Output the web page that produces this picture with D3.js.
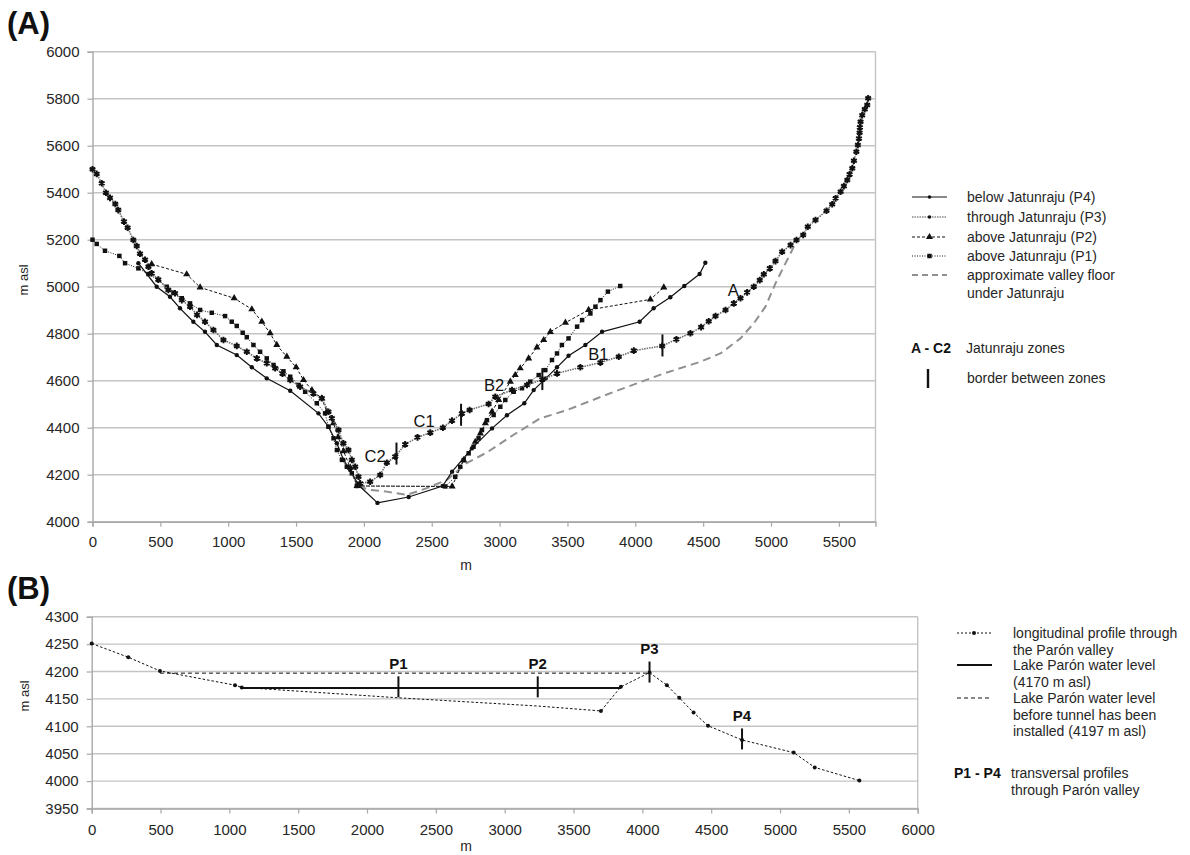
<!DOCTYPE html>
<html>
<head>
<meta charset="utf-8">
<script src="https://cdn.jsdelivr.net/npm/d3@7"></script>
<style>
  body { margin: 0; background: #fff; }
  svg { font-family: "Liberation Sans", Arial, sans-serif; }
</style>
</head>
<body>
<svg id="chart" width="1190" height="855"></svg>
<script>
// ---- panel A : transversal profiles [m, m asl] ----
const p4Below = [[338,5100],[473,5000],[571,4957],[645,4908],[743,4851],[829,4808],[916,4752],[1063,4709],[1174,4657],[1284,4610],[1457,4557],[1665,4461],[1739,4404],[1801,4334],[1850,4263],[1899,4220],[1960,4156],[2100,4080],[2330,4105],[2580,4152],[2650,4213],[2796,4312],[2944,4397],[3054,4453],[3182,4504],[3251,4560],[3340,4610],[3423,4657],[3508,4706],[3632,4752],[3755,4808],[4032,4851],[4135,4908],[4258,4955],[4361,5003],[4474,5054],[4516,5102]];
const p3Through = [[0,5500],[31,5480],[68,5440],[99,5400],[129,5378],[168,5352],[190,5326],[232,5277],[259,5251],[301,5199],[326,5173],[350,5140],[387,5115],[412,5085],[436,5057],[485,5030],[559,4986],[608,4972],[658,4943],[719,4915],[770,4880],[829,4851],[891,4816],[965,4773],[1063,4748],[1137,4723],[1211,4695],[1284,4674],[1346,4653],[1400,4630],[1457,4603],[1530,4574],[1628,4546],[1690,4525],[1739,4468],[1764,4440],[1813,4390],[1849,4334],[1886,4305],[1911,4263],[1936,4234],[1960,4191],[1972,4163],[2046,4170],[2120,4199],[2169,4251],[2231,4277],[2304,4329],[2395,4359],[2489,4379],[2582,4400],[2649,4430],[2722,4460],[2779,4475],[2919,4501],[2968,4532],[3091,4560],[3202,4582],[3315,4605],[3423,4631],[3595,4657],[3743,4677],[3878,4702],[3989,4728],[4198,4748],[4303,4776],[4406,4802],[4485,4828],[4541,4853],[4591,4875],[4665,4901],[4726,4929],[4775,4951],[4824,4976],[4873,5000],[4917,5028],[4947,5053],[4991,5078],[5033,5109],[5082,5149],[5144,5177],[5188,5199],[5237,5220],[5271,5255],[5328,5284],[5409,5323],[5451,5351],[5476,5376],[5513,5404],[5537,5428],[5562,5454],[5579,5478],[5599,5504],[5611,5536],[5629,5574],[5640,5603],[5648,5631],[5653,5655],[5655,5678],[5660,5702],[5672,5730],[5691,5755],[5709,5773],[5716,5802]];
const p2Above = [[436,5096],[694,5053],[793,4997],[1044,4951],[1174,4904],[1248,4851],[1309,4802],[1358,4752],[1432,4702],[1501,4657],[1555,4603],[1617,4560],[1690,4525],[1727,4468],[1776,4419],[1810,4360],[1850,4300],[1900,4230],[1950,4152],[2650,4150],[2735,4262],[2821,4340],[2858,4376],[2895,4419],[2944,4468],[2993,4518],[3079,4596],[3115,4624],[3152,4653],[3214,4695],[3275,4742],[3325,4773],[3374,4808],[3485,4847],[3656,4901],[4111,4946],[4210,4997]];
const p1Above = [[0,5200],[31,5182],[92,5153],[198,5131],[240,5100],[338,5078],[412,5054],[485,5029],[547,5000],[596,4975],[658,4951],[719,4929],[793,4901],[879,4889],[977,4875],[1026,4851],[1063,4833],[1107,4804],[1137,4785],[1186,4752],[1235,4723],[1284,4695],[1334,4667],[1407,4640],[1457,4617],[1518,4582],[1567,4553],[1653,4504],[1714,4461],[1739,4404],[1776,4355],[1801,4305],[1838,4263],[1874,4234],[1911,4206],[1948,4152],[2600,4150],[2673,4191],[2710,4234],[2735,4262],[2772,4291],[2808,4319],[2845,4355],[2870,4390],[2907,4432],[2956,4454],[3005,4489],[3042,4518],[3104,4553],[3165,4568],[3226,4596],[3288,4624],[3337,4645],[3386,4688],[3423,4716],[3459,4752],[3508,4780],[3571,4830],[3608,4858],[3669,4886],[3706,4915],[3743,4943],[3798,4979],[3889,5003]];
const valleyFloor = [[1960,4150],[2046,4135],[2169,4128],[2317,4114],[2464,4143],[2612,4178],[2760,4250],[2907,4295],[3104,4370],[3300,4440],[3497,4475],[3843,4553],[4212,4631],[4482,4681],[4630,4717],[4775,4780],[4873,4844],[4959,4915],[5033,5014],[5094,5085],[5156,5156],[5193,5199]];
const zoneBorders = [[2240,4290],[2716,4455],[3315,4607],[4200,4750]];
const zoneLabels = [["C2",2082,4280],["C1",2444,4429],["B2",2960,4582],["B1",3727,4713],["A",4722,4986]];
const ticksAx = d3.range(0, 5501, 500);
const ticksAy = d3.range(4000, 6001, 200);

// ---- panel B : longitudinal profile ----
const longProfile = [[0,4251],[266,4226],[496,4201],[1041,4175],[1090,4171],[2228,4152],[3240,4137],[3699,4128],[3844,4172],[4052,4198],[4178,4175],[4268,4152],[4372,4125],[4477,4101],[4724,4075],[5099,4052],[5252,4025],[5576,4001]];
const lakeLevel = [[1090,4170],[3844,4170]];
const lakeLevelOld = [[496,4197],[4052,4197]];
const transProfiles = [["P1",2228,4172],["P2",3240,4172],["P3",4052,4199],["P4",4724,4077]];
const ticksBx = d3.range(0, 6001, 500);
const ticksBy = d3.range(3950, 4301, 50);

const svg = d3.select("#chart");
const GRID = "#c4c4c4", AXIS = "#a8a8a8", TXT = "#262626";

const xA = d3.scaleLinear([0, 5770], [92.5, 875.5]);
const yA = d3.scaleLinear([4000, 6000], [521.7, 51.7]);
const xB = d3.scaleLinear([0, 6000], [91.7, 917.7]);
const yB = d3.scaleLinear([3950, 4300], [808.5, 616.7]);

function drawFrame(x, y, xt, yt, xPad) {
  const g = svg.append("g");
  g.selectAll("line.grid").data(yt).join("line")
    .attr("x1", x.range()[0]).attr("x2", x.range()[1])
    .attr("y1", d => y(d)).attr("y2", d => y(d))
    .attr("stroke", GRID).attr("stroke-width", 1.4);
  // right border
  g.append("line").attr("x1", x.range()[1]).attr("x2", x.range()[1])
    .attr("y1", y.range()[0]).attr("y2", y.range()[1])
    .attr("stroke", GRID).attr("stroke-width", 1.4);

  const ax = g.append("g").attr("transform", `translate(0,${y.range()[0]})`)
    .call(d3.axisBottom(x).tickValues(xt).tickSize(5).tickPadding(xPad).tickFormat(d3.format("d")));
  const ay = g.append("g").attr("transform", `translate(${x.range()[0]},0)`)
    .call(d3.axisLeft(y).tickValues(yt).tickSize(5).tickPadding(8).tickFormat(d3.format("d")));
  [ax, ay].forEach(a => {
    a.select(".domain").attr("stroke", AXIS).attr("stroke-width", 1.4);
    a.selectAll(".tick line").attr("stroke", AXIS).attr("stroke-width", 1.2);
    a.selectAll(".tick text").attr("fill", TXT).style("font-size", "15px");
  });
  return g;
}

const line = (x, y) => d3.line().x(d => x(d[0])).y(d => y(d[1]));

// ===== panel A =====
drawFrame(xA, yA, ticksAx, ticksAy, 10);

const gA = svg.append("g");
gA.append("path").datum(valleyFloor).attr("d", line(xA, yA))
  .attr("fill", "none").attr("stroke", "#909090").attr("stroke-width", 2).attr("stroke-dasharray", "8,5");

const asterisk = d3.symbolAsterisk || d3.symbolCross;
// P2 first so the thin dotted P1 sits on top where the two run together along the floor
const seriesA = [
  { data: p2Above, stroke: "#111", width: 1, dash: "3,2", mark: "triangle" },
  { data: p1Above, stroke: "#111", width: 1, dash: "1,1.5", mark: "square" },
  { data: p4Below, stroke: "#111", width: 1.2, dash: null, mark: "dot" },
  { data: p3Through, stroke: "#6e6e6e", width: 1.6, dash: "1.5,1", mark: "star" }
];

function marker(sel, kind, x, y) {
  if (kind === "dot") {
    sel.append("circle").attr("cx", x).attr("cy", y).attr("r", 2.2).attr("fill", "#111");
  } else if (kind === "square") {
    sel.append("path").attr("transform", `translate(${x},${y})`)
      .attr("d", d3.symbol(d3.symbolSquare, 20)()).attr("fill", "#111");
  } else if (kind === "triangle") {
    sel.append("path").attr("transform", `translate(${x},${y})`)
      .attr("d", d3.symbol(d3.symbolTriangle, 22)()).attr("fill", "#111");
  } else if (kind === "star") {
    sel.append("path").attr("transform", `translate(${x},${y})`)
      .attr("d", d3.symbol(asterisk, 30)()).attr("fill", "none")
      .attr("stroke", "#111").attr("stroke-width", 2);
  } else if (kind === "smalldot") {
    sel.append("circle").attr("cx", x).attr("cy", y).attr("r", 1.8).attr("fill", "#111");
  }
}

seriesA.forEach(s => {
  gA.append("path").datum(s.data).attr("d", line(xA, yA))
    .attr("fill", "none").attr("stroke", s.stroke).attr("stroke-width", s.width)
    .attr("stroke-dasharray", s.dash);
  const mg = gA.append("g");
  s.data.forEach(d => marker(mg, s.mark, xA(d[0]), yA(d[1])));
});

// zone borders and labels
gA.selectAll("line.zone").data(zoneBorders).join("line")
  .attr("x1", d => xA(d[0])).attr("x2", d => xA(d[0]))
  .attr("y1", d => yA(d[1]) - 11).attr("y2", d => yA(d[1]) + 11)
  .attr("stroke", "#111").attr("stroke-width", 2);
gA.selectAll("text.zone").data(zoneLabels).join("text")
  .attr("x", d => xA(d[1])).attr("y", d => yA(d[2]))
  .attr("text-anchor", "middle").attr("dominant-baseline", "central")
  .attr("fill", "#111").style("font-size", "16.5px").text(d => d[0]);

// titles
svg.append("text").attr("x", 7).attr("y", 34).attr("font-weight", "bold")
  .style("font-size", "31px").attr("fill", "#111").text("(A)");
svg.append("text").attr("transform", "translate(28,280) rotate(-90)")
  .attr("text-anchor", "middle").style("font-size", "13px").attr("fill", TXT).text("m asl");
svg.append("text").attr("x", 466).attr("y", 570).attr("text-anchor", "middle")
  .style("font-size", "14px").attr("fill", TXT).text("m");

// legend A
const legA = svg.append("g");
const legItemsA = [
  { y: 197, stroke: "#111", width: 1, dash: null, mark: "smalldot", text: ["below Jatunraju (P4)"] },
  { y: 217, stroke: "#888", width: 1.4, dash: "1.5,1", mark: "smalldot", text: ["through Jatunraju (P3)"] },
  { y: 237, stroke: "#111", width: 1, dash: "3,2", mark: "triangle", text: ["above Jatunraju (P2)"] },
  { y: 256, stroke: "#111", width: 1, dash: "1,1.5", mark: "square", text: ["above Jatunraju (P1)"] },
  { y: 275, stroke: "#909090", width: 2, dash: "6,4", mark: null, text: ["approximate valley floor", "under Jatunraju"] }
];
legItemsA.forEach(it => {
  legA.append("line").attr("x1", 912).attr("x2", 947).attr("y1", it.y).attr("y2", it.y)
    .attr("stroke", it.stroke).attr("stroke-width", it.width).attr("stroke-dasharray", it.dash);
  if (it.mark) marker(legA, it.mark, 929.5, it.y);
  it.text.forEach((t, i) => legA.append("text").attr("x", 967).attr("y", it.y + i * 18)
    .attr("dominant-baseline", "central").style("font-size", "14px").attr("fill", TXT).text(t));
});
legA.append("text").attr("x", 911).attr("y", 348).attr("dominant-baseline", "central")
  .attr("font-weight", "bold").style("font-size", "14px").attr("fill", "#111").text("A - C2");
legA.append("text").attr("x", 966).attr("y", 348).attr("dominant-baseline", "central")
  .style("font-size", "14px").attr("fill", TXT).text("Jatunraju zones");
legA.append("line").attr("x1", 928).attr("x2", 928).attr("y1", 369).attr("y2", 388)
  .attr("stroke", "#111").attr("stroke-width", 2.4);
legA.append("text").attr("x", 967).attr("y", 378).attr("dominant-baseline", "central")
  .style("font-size", "14px").attr("fill", TXT).text("border between zones");

// ===== panel B =====
drawFrame(xB, yB, ticksBx, ticksBy, 11);
const gB = svg.append("g");
gB.append("path").datum(lakeLevelOld).attr("d", line(xB, yB))
  .attr("fill", "none").attr("stroke", "#111").attr("stroke-width", 1).attr("stroke-dasharray", "4,3");
gB.append("path").datum(longProfile).attr("d", line(xB, yB))
  .attr("fill", "none").attr("stroke", "#111").attr("stroke-width", 1).attr("stroke-dasharray", "2.5,2");
gB.append("path").datum(lakeLevel).attr("d", line(xB, yB))
  .attr("fill", "none").attr("stroke", "#111").attr("stroke-width", 2);
// dots on the profile, except where the P1/P2 bars sit
const barXs = new Set(transProfiles.slice(0, 2).map(d => d[1]));
gB.selectAll("circle.pt").data(longProfile.filter(d => !barXs.has(d[0]))).join("circle")
  .attr("cx", d => xB(d[0])).attr("cy", d => yB(d[1])).attr("r", 2).attr("fill", "#111");
gB.selectAll("line.pp").data(transProfiles).join("line")
  .attr("x1", d => xB(d[1])).attr("x2", d => xB(d[1]))
  .attr("y1", d => yB(d[2]) - 10.5).attr("y2", d => yB(d[2]) + 10.5)
  .attr("stroke", "#111").attr("stroke-width", 2);
gB.selectAll("text.pp").data(transProfiles).join("text")
  .attr("x", d => xB(d[1])).attr("y", d => yB(d[2]) - 18)
  .attr("text-anchor", "middle").attr("font-weight", "bold")
  .style("font-size", "15px").attr("fill", "#111").text(d => d[0]);

svg.append("text").attr("x", 7).attr("y", 599).attr("font-weight", "bold")
  .style("font-size", "31px").attr("fill", "#111").text("(B)");
svg.append("text").attr("transform", "translate(29,696) rotate(-90)")
  .attr("text-anchor", "middle").style("font-size", "13px").attr("fill", TXT).text("m asl");
svg.append("text").attr("x", 466).attr("y", 851).attr("text-anchor", "middle")
  .style("font-size", "14px").attr("fill", TXT).text("m");

// legend B
const legB = svg.append("g");
const legItemsB = [
  { y: 633, width: 1, dash: "2,2", dot: true, text: ["longitudinal profile through", "the Parón valley"] },
  { y: 665, width: 2, dash: null, dot: false, text: ["Lake Parón water level", "(4170 m asl)"] },
  { y: 698, width: 1, dash: "4,3", dot: false, text: ["Lake Parón water level", "before tunnel has been", "installed (4197 m asl)"] }
];
legItemsB.forEach(it => {
  legB.append("line").attr("x1", 957).attr("x2", 992).attr("y1", it.y).attr("y2", it.y)
    .attr("stroke", "#111").attr("stroke-width", it.width).attr("stroke-dasharray", it.dash);
  if (it.dot) legB.append("circle").attr("cx", 974).attr("cy", it.y).attr("r", 2).attr("fill", "#111");
  it.text.forEach((t, i) => legB.append("text").attr("x", 1013).attr("y", it.y + i * 16.5)
    .attr("dominant-baseline", "central").style("font-size", "14px").attr("fill", TXT).text(t));
});
legB.append("text").attr("x", 954).attr("y", 773).attr("dominant-baseline", "central")
  .attr("font-weight", "bold").style("font-size", "14px").attr("fill", "#111").text("P1 - P4");
["transversal profiles", "through Parón valley"].forEach((t, i) =>
  legB.append("text").attr("x", 1011).attr("y", 773 + i * 17).attr("dominant-baseline", "central")
    .style("font-size", "14px").attr("fill", TXT).text(t));
</script>
</body>
</html>
